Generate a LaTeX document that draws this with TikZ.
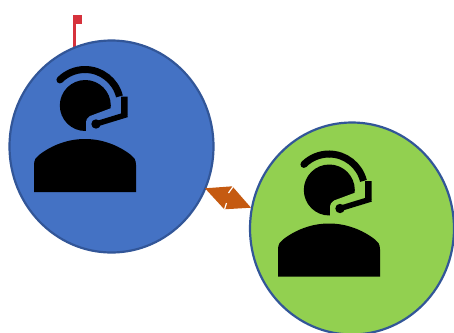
\documentclass[tikz,border=0pt]{standalone}
\usepackage{xcolor}
\usetikzlibrary{shapes.geometric}
\definecolor{agentblue}{RGB}{68,114,196}
\definecolor{agentgreen}{RGB}{146,208,80}
\definecolor{rimblue}{RGB}{50,86,152}
\definecolor{linkorange}{RGB}{197,90,17}
\definecolor{flagred}{RGB}{214,50,60}
\tikzset{
  agentcircle/.style={ellipse,draw=rimblue,line width=2.2pt,minimum width=204pt,minimum height=212pt,inner sep=0pt},
  pics/agent/.style={code={
    % head, with the gap for the mic arm
    \fill[black] (85.3,105.5) circle (25.5);
    \fill[#1] (110.7,108.3) -- (90,116) .. controls (87,117.5) and (86,120) .. (86,124) -- (86,132) -- (120,132) -- (120,108.3) -- cycle;
    % headband
    \draw[black,line width=7pt,line cap=round,shift={(85,105)}] (-135:35.5) arc (-135:-90:35.5);
    \draw[black,line width=7pt,shift={(85,105)}] (-90:35.5) arc (-90:-14:35.5);
    % earpiece and mic arm
    \fill[black] (121,96.5) -- (127.7,96.5) -- (127.7,115.5) -- (121,117) -- cycle;
    \draw[black,line width=5.5pt] (127,114.5) -- (96,124);
    \fill[black] (96,124) circle (4.7);
    % body
    \fill[black] (34,192) -- (34,165) .. controls (34,160) and (36,157) .. (39,155) .. controls (52,145) and (68,139) .. (85,139) .. controls (102,139) and (118,145) .. (131,155) .. controls (134,157) and (136,160) .. (136,165) -- (136,192) -- cycle;
  }}
}
\begin{document}
\begin{tikzpicture}[x=1pt,y=-1pt]
    \useasboundingbox (0,0) rectangle (454,332);
    \clip (0,0) rectangle (454,332);
    % flag on the left agent
    \fill[flagred] (73.3,15) rectangle (82,24);
    \fill[flagred] (73.3,15) rectangle (76,48);
    % agents
    \node[agentcircle,fill=agentblue] (agentleft) at (111.5,146.5) {};
    \node[agentcircle,fill=agentgreen] (agentright) at (352,228.5) {};
    \pic at (0,0) {agent=agentblue};
    \pic at (244,84.5) {agent=agentgreen};
    % link between them
    \fill[linkorange] (205,188.3) -- (232.3,186.3) -- (251,207.7) -- (224.3,209.3) -- cycle;
    \draw[white,line width=1.2pt] (233.5,186) -- (228.5,193);
    \draw[white,line width=1.2pt] (226.5,203) -- (224.5,209.5);
\end{tikzpicture}
\end{document}
